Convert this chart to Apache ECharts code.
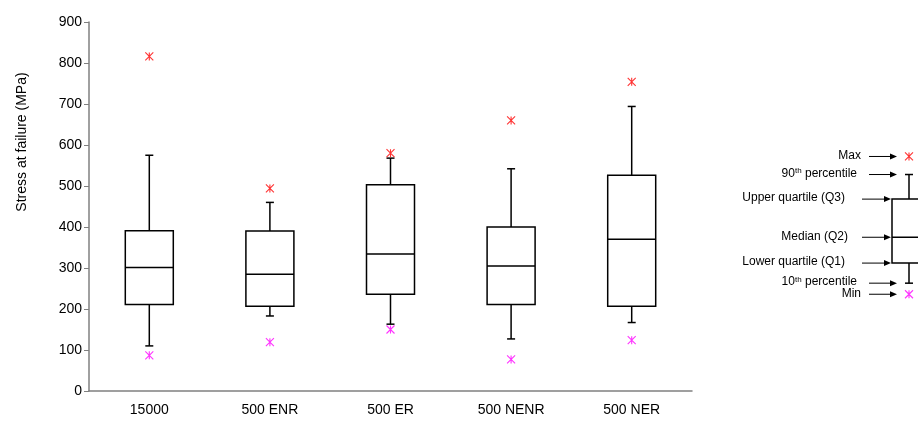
<!DOCTYPE html>
<html>
<head>
<meta charset="utf-8">
<script src="https://cdn.jsdelivr.net/npm/echarts@6/dist/echarts.min.js"></script>
<style>
  html, body { margin: 0; padding: 0; background: #fff; }
  #main { width: 918px; height: 421px; }
</style>
</head>
<body>
<div id="main"></div>
<script>
// values (MPa)
const categories = ['15000', '500 ENR', '500 ER', '500 NENR', '500 NER']
const p10 = [110, 183, 163, 127, 167]
const q1 = [211, 207, 236, 211, 207]
const median = [301, 285, 334, 305, 370]
const q3 = [391, 390, 503, 400, 526]
const p90 = [575, 460, 568, 542, 694]
const maxVals = [816, 494, 580, 660, 754]
const minVals = [87, 119, 150, 77, 124]

// key diagram on the right
const keyLabels = ['Max', '90th percentile', 'Upper quartile (Q3)', 'Median (Q2)', 'Lower quartile (Q1)', '10th percentile', 'Min']
const keyValues = [572, 528, 468, 375, 312, 263, 236]

const font = 'Liberation Sans, Arial, sans-serif'
const starPath = 'path://M0,0L10,10M10,0L0,10M5,0L5,10'

function whiskerItem(params, api) {
  const x = api.value(0)
  const lo = api.coord([x, api.value(1)])
  const hi = api.coord([x, api.value(2)])
  const cap = 4
  const st = { stroke: '#000', lineWidth: 1.5 }
  return {
    type: 'group',
    children: [
      { type: 'line', shape: { x1: lo[0], y1: lo[1], x2: hi[0], y2: hi[1] }, style: st },
      { type: 'line', shape: { x1: lo[0] - cap, y1: lo[1], x2: lo[0] + cap, y2: lo[1] }, style: st },
      { type: 'line', shape: { x1: hi[0] - cap, y1: hi[1], x2: hi[0] + cap, y2: hi[1] }, style: st }
    ]
  }
}

function boxSeries(idx, lo, a, m, b, hi, mx, mn, width) {
  return [
    {
      type: 'custom', xAxisIndex: idx, yAxisIndex: idx, z: 1,
      renderItem: whiskerItem,
      encode: { x: 0, y: [1, 2] },
      data: lo.map((v, i) => [i, v, hi[i]])
    },
    {
      type: 'boxplot', xAxisIndex: idx, yAxisIndex: idx, z: 2,
      boxWidth: [width, width],
      itemStyle: { color: '#fff', borderColor: '#000', borderWidth: 1.5 },
      silent: true,
      data: a.map((v, i) => [v, v, m[i], b[i], b[i]])
    },
    {
      type: 'scatter', xAxisIndex: idx, yAxisIndex: idx, z: 3,
      symbol: starPath, symbolSize: 8,
      itemStyle: { color: '#ff0000', borderColor: '#ff0000', borderWidth: 1.1 },
      data: mx.map((v, i) => [i, v])
    },
    {
      type: 'scatter', xAxisIndex: idx, yAxisIndex: idx, z: 3,
      symbol: starPath, symbolSize: 8,
      itemStyle: { color: '#ff00ff', borderColor: '#ff00ff', borderWidth: 1.1 },
      data: mn.map((v, i) => [i, v])
    }
  ]
}

const chart = echarts.init(document.getElementById('main'))

chart.setOption({
  animation: false,
  grid: [
    { left: 89, right: 226, top: 22, bottom: 30 },
    { left: 900, width: 18, top: 22, bottom: 30 }
  ],
  xAxis: [
    {
      type: 'category', data: categories, gridIndex: 0,
      axisLine: { lineStyle: { color: '#808080', width: 1.5 } },
      axisTick: { length: 5, lineStyle: { color: '#808080' } },
      axisLabel: { color: '#000', fontSize: 14, fontFamily: font, margin: 12 }
    },
    { type: 'category', data: ['key'], gridIndex: 1, show: false }
  ],
  yAxis: [
    {
      type: 'value', min: 0, max: 900, interval: 100, gridIndex: 0,
      axisLine: { show: true, lineStyle: { color: '#808080', width: 1.5 } },
      axisTick: { show: true, length: 5, lineStyle: { color: '#808080' } },
      splitLine: { show: false },
      axisLabel: { color: '#000', fontSize: 14, fontFamily: font, margin: 7 }
    },
    { type: 'value', min: 0, max: 900, gridIndex: 1, show: false }
  ],
  series: [
    ...boxSeries(0, p10, q1, median, q3, p90, maxVals, minVals, 48),
    ...boxSeries(1, [keyValues[5]], [keyValues[4]], [keyValues[3]], [keyValues[2]], [keyValues[1]], [keyValues[0]], [keyValues[6]], 34)
  ]
})

// labels and arrows of the key, placed from the key axis
const toBox = [false, false, true, true, true, false, false]
const labelEnd = [861, 857, 845, 848, 845, 857, 861]
const graphics = [{
  type: 'text', x: 22, y: 142, rotation: Math.PI / 2,
  style: { text: 'Stress at failure (MPa)', fill: '#000', font: '14px ' + font, align: 'center', verticalAlign: 'middle' }
}]
keyLabels.forEach((label, i) => {
  const y = chart.convertToPixel({ yAxisIndex: 1 }, keyValues[i])
  const x1 = toBox[i] ? 862 : 869
  const x2 = toBox[i] ? 891 : 897
  let text = label
  let rich
  const m = label.match(/^(\d+)th (.*)$/)
  if (m) {
    text = '{n|' + m[1] + '}{s|th}{n| ' + m[2] + '}'
    rich = {
      n: { fontSize: 12, fontFamily: font, fill: '#000' },
      s: { fontSize: 8, fontFamily: font, fill: '#000', verticalAlign: 'top', padding: [0, 0, 5, 0] }
    }
  }
  graphics.push({
    type: 'text', x: labelEnd[i], y: y - 1,
    style: { text: text, rich: rich, fill: '#000', font: '12px ' + font, align: 'right', verticalAlign: 'middle' }
  })
  graphics.push({
    type: 'line', shape: { x1: x1, y1: y, x2: x2 - 5, y2: y },
    style: { stroke: '#000', lineWidth: 1 }
  })
  graphics.push({
    type: 'polygon', shape: { points: [[x2, y], [x2 - 7, y - 3], [x2 - 7, y + 3]] },
    style: { fill: '#000' }
  })
})
chart.setOption({ graphic: graphics })
</script>
</body>
</html>
